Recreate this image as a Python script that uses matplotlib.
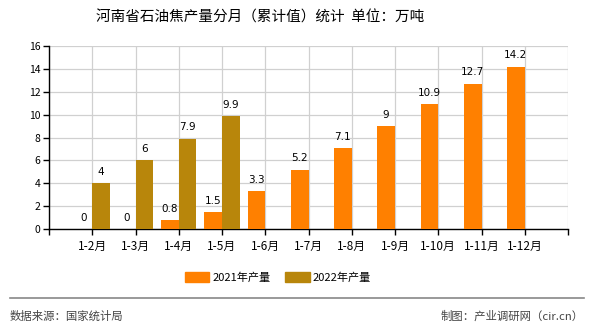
import numpy as np
import matplotlib
matplotlib.use("Agg")
import matplotlib.pyplot as plt
from matplotlib.patches import Patch

plt.rcParams['font.family'] = ['Noto Sans CJK SC', 'DejaVu Sans']

months = ['1-2月', '1-3月', '1-4月', '1-5月', '1-6月', '1-7月',
          '1-8月', '1-9月', '1-10月', '1-11月', '1-12月']
output_2021 = [0, 0, 0.8, 1.5, 3.3, 5.2, 7.1, 9, 10.9, 12.7, 14.2]
output_2022 = [4, 6, 7.9, 9.9]
series_names = ['2021年产量', '2022年产量']
colors = ['#FF8000', '#B8860B']

fig = plt.figure(figsize=(5.9, 3.3), dpi=100)
ax = fig.add_axes([49 / 590, 1 - 229 / 330, (568 - 49) / 590, (229 - 46) / 330])

x = np.arange(len(months))
w = 0.41
bars1 = ax.bar(x[:len(output_2021)] - w / 2, output_2021, w, color=colors[0], zorder=3)
bars2 = ax.bar(x[:len(output_2022)] + w / 2, output_2022, w, color=colors[1], zorder=3)

for bars, vals in ((bars1, output_2021), (bars2, output_2022)):
    for b, v in zip(bars, vals):
        ax.annotate(f'{v:g}', (b.get_x() + b.get_width() / 2, v),
                    xytext=(0, 4.5), textcoords='offset points',
                    ha='center', va='bottom', fontsize=7.5, family='DejaVu Sans')

ax.set_xlim(-1, len(months))
ax.set_ylim(0, 16)
ax.set_yticks(range(0, 17, 2))
ax.set_xticks(np.arange(-1, len(months) + 1))
ax.set_xticklabels([''] + months + [''])
ax.tick_params(axis='x', labelsize=8.5, length=4, width=1, pad=4)
ax.tick_params(axis='y', labelsize=7.5, length=4, width=1, pad=2)
ax.grid(True, color='#d0d0d0', linewidth=0.9, zorder=0)
for s in ['top', 'right']:
    ax.spines[s].set_visible(False)
ax.spines['left'].set_linewidth(1)
ax.spines['bottom'].set_linewidth(1)

fig.text(260 / 590, 1 - 18 / 330, '河南省石油焦产量分月（累计值）统计  单位：万吨',
         ha='center', va='center', fontsize=10.5)

handles = [Patch(color=c) for c in colors]
fig.legend(handles, series_names, loc='center', bbox_to_anchor=(278 / 590, 1 - 277 / 330),
           ncol=2, frameon=False, fontsize=8, handlelength=2.2, handleheight=1.0,
           columnspacing=1.3, handletextpad=0.3)

fig.add_artist(plt.Line2D([10 / 590, 584 / 590], [1 - 298 / 330] * 2,
                          color='#888888', linewidth=1.2))
fig.text(10 / 590, 1 - 316 / 330, '数据来源：国家统计局', ha='left', va='center',
         fontsize=8.2, color='#444444')
fig.text(584 / 590, 1 - 316 / 330, '制图：产业调研网（cir.cn）', ha='right', va='center',
         fontsize=8.2, color='#444444')

fig.savefig('out.png', dpi=100)
